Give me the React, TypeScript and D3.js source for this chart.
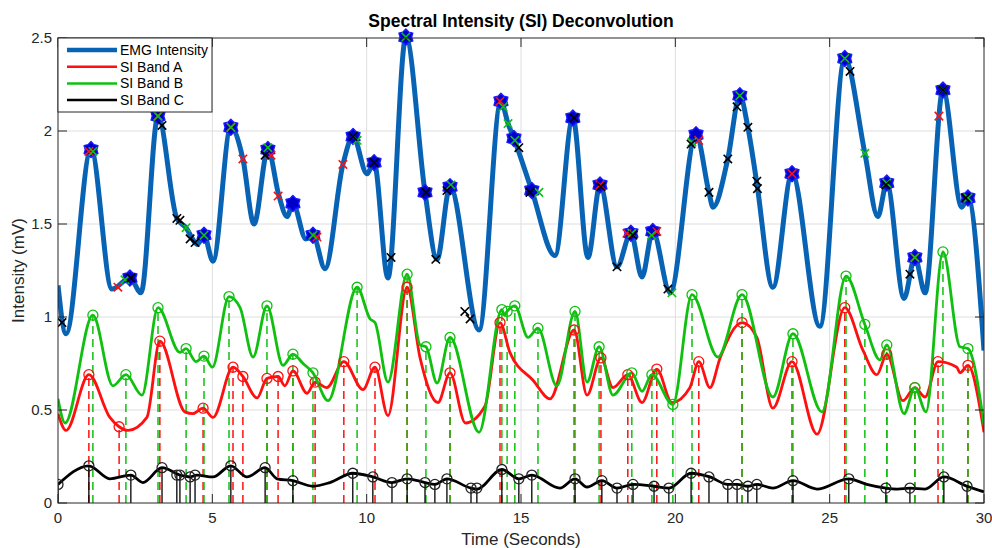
import React from "react";
import * as d3 from "d3";

type P = [number, number];

const xTicks = [0, 5, 10, 15, 20, 25, 30];
const yTicks = [0, 0.5, 1, 1.5, 2, 2.5];
const yTickLabels = ["0", "0.5", "1", "1.5", "2", "2.5"];

const emgSeries: P[] = [
  [0, 1.17], [0.26, 0.91], [1.07, 1.9], [1.75, 1.15], [2.33, 1.21], [2.69, 1.13], [3.24, 2.08],
  [3.85, 1.53], [4.15, 1.48], [4.44, 1.4], [4.52, 1.39], [4.73, 1.44], [5.02, 1.3], [5.6, 2.02],
  [5.99, 1.85], [6.35, 1.5], [6.8, 1.9], [7.16, 1.65], [7.42, 1.54], [7.61, 1.61], [8.03, 1.42],
  [8.26, 1.44], [8.65, 1.26], [9.23, 1.82], [9.56, 1.97], [10.01, 1.77], [10.24, 1.83], [10.69, 1.21],
  [11.27, 2.505], [11.89, 1.67], [12.28, 1.31], [12.7, 1.7], [13.64, 0.93], [14.35, 2.16], [14.58, 2.04],
  [14.77, 1.96], [15.35, 1.68], [16.1, 1.33], [16.68, 2.07], [17.17, 1.32], [17.56, 1.71], [18.11, 1.27],
  [18.56, 1.45], [18.92, 1.215], [19.27, 1.46], [19.83, 1.13], [20.67, 1.98], [21.09, 1.67], [21.22, 1.59],
  [21.7, 1.85], [22.09, 2.19], [22.35, 2.02], [22.64, 1.72], [23.16, 1.16], [23.78, 1.77], [24.68, 0.95],
  [25.49, 2.39], [26.14, 1.88], [26.56, 1.54], [26.85, 1.72], [27.41, 1.1], [27.76, 1.32], [28.09, 1.13],
  [28.67, 2.22], [29.28, 1.59], [29.48, 1.64], [30, 0.82],
];

const emgStars: P[] = [
  [1.07, 1.9], [2.33, 1.21], [3.24, 2.08], [4.73, 1.44], [5.6, 2.02], [6.8, 1.9], [7.61, 1.61],
  [8.26, 1.44], [9.56, 1.97], [10.24, 1.83], [11.27, 2.505], [11.89, 1.67], [12.7, 1.7], [14.35, 2.16],
  [14.77, 1.96], [15.35, 1.68], [16.68, 2.07], [17.56, 1.71], [18.56, 1.45], [19.27, 1.46], [20.67, 1.98],
  [22.09, 2.19], [23.78, 1.77], [25.49, 2.39], [26.85, 1.72], [27.76, 1.32], [28.67, 2.22], [29.48, 1.64],
];

const redX: P[] = [
  [1.0, 1.89], [1.94, 1.16], [3.24, 2.08], [5.6, 2.02], [5.99, 1.85], [6.9, 1.87], [7.13, 1.65],
  [8.39, 1.43], [9.23, 1.82], [14.32, 2.16], [17.56, 1.71], [18.43, 1.45], [19.4, 1.46], [20.76, 1.95],
  [23.78, 1.77], [27.76, 1.32], [28.54, 2.08],
];
const greenX: P[] = [
  [1.13, 1.89], [2.17, 1.2], [3.24, 2.08], [4.15, 1.48], [4.73, 1.44], [5.6, 2.02], [6.8, 1.91],
  [8.26, 1.44], [9.69, 1.95], [11.27, 2.505], [12.73, 1.71], [14.42, 2.13], [14.58, 2.04], [14.8, 1.95],
  [15.58, 1.67], [18.59, 1.45], [19.23, 1.44], [19.89, 1.13], [20.54, 1.94], [22.09, 2.19], [25.49, 2.39],
  [26.14, 1.88], [26.85, 1.72], [27.76, 1.32], [28.67, 2.22], [29.48, 1.64],
];
const blackX: P[] = [
  [0.13, 0.97], [2.36, 1.21], [3.37, 2.03], [3.85, 1.53], [3.95, 1.52], [4.28, 1.42], [4.44, 1.4],
  [6.71, 1.87], [9.56, 1.97], [10.24, 1.83], [10.79, 1.32], [11.92, 1.67], [12.24, 1.31], [12.6, 1.68],
  [13.18, 1.03], [13.35, 0.99], [14.93, 1.91], [15.29, 1.67], [16.72, 2.07], [17.59, 1.7], [18.11, 1.27],
  [18.63, 1.44], [19.76, 1.15], [20.51, 1.93], [21.09, 1.67], [21.7, 1.85], [22.0, 2.13], [22.35, 2.02],
  [22.64, 1.73], [22.66, 1.69], [25.66, 2.32], [26.82, 1.71], [27.6, 1.23], [28.67, 2.22], [29.41, 1.64],
];

const bandASeries: P[] = [
  [0, 0.48], [0.26, 0.39], [1.0, 0.69], [1.68, 0.46], [1.98, 0.41], [2.27, 0.39], [2.88, 0.46],
  [3.3, 0.87], [4.11, 0.49], [4.37, 0.48], [4.7, 0.51], [5.02, 0.46], [5.67, 0.73], [5.99, 0.68],
  [6.45, 0.565], [6.77, 0.67], [7.13, 0.68], [7.35, 0.63], [7.61, 0.71], [8.07, 0.59], [8.33, 0.65],
  [8.71, 0.62], [9.26, 0.76], [9.88, 0.61], [10.27, 0.73], [10.69, 0.47], [11.31, 1.16], [11.73, 0.78],
  [12.31, 0.54], [12.7, 0.7], [13.2, 0.43], [13.83, 0.52], [14.32, 0.97], [14.64, 0.81], [15.39, 0.66],
  [15.94, 0.56], [16.72, 0.93], [17.14, 0.58], [17.59, 0.78], [17.98, 0.62], [18.46, 0.69], [18.92, 0.54],
  [19.4, 0.72], [19.89, 0.54], [20.47, 0.62], [20.76, 0.76], [21.12, 0.62], [21.45, 0.78], [22.16, 0.97],
  [22.64, 0.89], [23.16, 0.51], [23.78, 0.76], [24.59, 0.37], [25.49, 1.05], [26.08, 0.82], [26.53, 0.69],
  [26.85, 0.8], [27.37, 0.55], [27.76, 0.62], [28.09, 0.57], [28.51, 0.76], [29.12, 0.73], [29.22, 0.7],
  [29.48, 0.74], [30, 0.38],
];
const bandAPeaks: P[] = [
  [1.0, 0.69], [1.98, 0.41], [3.3, 0.87], [4.7, 0.51], [5.67, 0.73], [5.99, 0.68], [6.77, 0.67],
  [7.13, 0.68], [7.61, 0.71], [8.33, 0.65], [9.26, 0.76], [10.27, 0.73], [11.31, 1.16], [12.7, 0.7],
  [14.32, 0.97], [16.72, 0.93], [17.59, 0.78], [18.46, 0.69], [19.4, 0.72], [20.76, 0.76], [22.16, 0.97],
  [23.78, 0.76], [25.49, 1.05], [26.85, 0.8], [27.76, 0.62], [28.51, 0.76], [29.48, 0.74],
];

const bandBSeries: P[] = [
  [0, 0.56], [0.23, 0.43], [1.13, 1.01], [1.78, 0.63], [2.2, 0.69], [2.72, 0.58], [3.24, 1.05],
  [3.95, 0.81], [4.15, 0.83], [4.47, 0.76], [4.73, 0.79], [5.0, 0.73], [5.54, 1.11], [5.9, 1.05],
  [6.32, 0.785], [6.77, 1.06], [7.29, 0.74], [7.61, 0.8], [7.94, 0.75], [8.26, 0.7], [8.75, 0.55],
  [9.69, 1.16], [10.11, 0.99], [10.27, 0.97], [10.69, 0.65], [11.31, 1.23], [11.73, 0.85], [11.92, 0.84],
  [12.28, 0.645], [12.7, 0.89], [13.64, 0.38], [14.38, 1.04], [14.46, 1.01], [14.55, 1.03], [14.8, 1.06],
  [15.23, 0.89], [15.55, 0.94], [16.16, 0.63], [16.75, 1.03], [17.14, 0.65], [17.53, 0.84], [17.98, 0.58],
  [18.59, 0.7], [18.92, 0.6], [19.24, 0.69], [19.92, 0.53], [20.54, 1.12], [21.38, 0.785], [22.16, 1.12],
  [23.16, 0.57], [23.81, 0.91], [24.75, 0.49], [25.53, 1.22], [26.14, 0.96], [26.63, 0.77], [26.85, 0.85],
  [27.41, 0.48], [27.76, 0.62], [28.12, 0.49], [28.67, 1.35], [29.22, 0.84], [29.48, 0.83], [30, 0.42],
];
const bandBPeaks: P[] = [
  [1.13, 1.01], [2.2, 0.69], [3.24, 1.05], [4.15, 0.83], [4.73, 0.79], [5.54, 1.11], [6.77, 1.06],
  [7.61, 0.8], [8.26, 0.7], [9.69, 1.16], [11.31, 1.23], [11.92, 0.84], [12.7, 0.89], [14.38, 1.04],
  [14.55, 1.03], [14.8, 1.06], [15.55, 0.94], [16.75, 1.03], [17.53, 0.84], [18.59, 0.7], [19.24, 0.69],
  [19.92, 0.53], [20.54, 1.12], [22.16, 1.12], [23.81, 0.91], [25.53, 1.22], [26.14, 0.96], [26.85, 0.85],
  [27.76, 0.62], [28.67, 1.35], [29.48, 0.83],
];

const bandCSeries: P[] = [
  [0, 0.1], [1.0, 0.2], [1.68, 0.13], [2.36, 0.15], [2.75, 0.11], [3.37, 0.19], [3.95, 0.15],
  [4.28, 0.14], [4.5, 0.15], [5.02, 0.14], [5.6, 0.2], [6.12, 0.14], [6.71, 0.19], [7.1, 0.13],
  [7.61, 0.12], [8.26, 0.09], [8.81, 0.11], [9.55, 0.16], [10.2, 0.14], [10.82, 0.11], [11.31, 0.13],
  [11.89, 0.11], [12.21, 0.1], [12.6, 0.13], [13.38, 0.08], [13.57, 0.075], [14.38, 0.18], [14.93, 0.13],
  [15.35, 0.15], [16.26, 0.08], [16.75, 0.13], [17.14, 0.086], [17.62, 0.12], [18.11, 0.08], [18.63, 0.1],
  [19.31, 0.09], [19.79, 0.08], [20.51, 0.16], [21.12, 0.14], [21.7, 0.1], [22.0, 0.1], [22.35, 0.09],
  [22.64, 0.1], [23.16, 0.08], [23.81, 0.12], [24.59, 0.075], [25.62, 0.13], [26.2, 0.1], [26.82, 0.08],
  [27.2, 0.075], [27.6, 0.08], [28.09, 0.075], [28.7, 0.14], [29.45, 0.09], [30, 0.06],
];
const bandCPeaks: P[] = [
  [0.0, 0.1], [1.0, 0.2], [2.36, 0.15], [3.37, 0.19], [3.85, 0.15], [3.95, 0.15], [4.28, 0.14],
  [4.44, 0.15], [5.6, 0.2], [6.71, 0.19], [7.61, 0.12], [9.55, 0.16], [10.2, 0.14], [10.82, 0.11],
  [11.31, 0.13], [11.89, 0.11], [12.21, 0.1], [12.6, 0.13], [13.38, 0.08], [13.57, 0.08], [14.38, 0.18],
  [14.93, 0.13], [15.35, 0.15], [16.75, 0.13], [17.62, 0.12], [18.11, 0.08], [18.63, 0.1], [19.31, 0.09],
  [19.79, 0.08], [20.51, 0.16], [21.09, 0.14], [21.7, 0.1], [22.0, 0.1], [22.35, 0.09], [22.64, 0.1],
  [23.81, 0.12], [25.62, 0.13], [26.82, 0.08], [27.6, 0.08], [28.7, 0.14], [29.45, 0.09],
];

const legendItems = [
  { label: "EMG Intensity", color: "#0863b5", width: 4.5 },
  { label: "SI Band A", color: "#ff1010", width: 2.5 },
  { label: "SI Band B", color: "#10c010", width: 2.5 },
  { label: "SI Band C", color: "#000000", width: 2.5 },
];

const W = 992;
const H = 548;
const L = 58, R = 984, T = 38, B = 503;
const FONT = "'Liberation Sans', Arial, Helvetica, sans-serif";
const AX = "#262626";

function hexagramPath(r: number): string {
  const p = d3.path();
  for (let i = 0; i < 12; i++) {
    const a = -Math.PI / 2 + (i * Math.PI) / 6;
    const rr = i % 2 === 0 ? r : r * 0.72;
    if (i === 0) p.moveTo(rr * Math.cos(a), rr * Math.sin(a));
    else p.lineTo(rr * Math.cos(a), rr * Math.sin(a));
  }
  p.closePath();
  return p.toString();
}

export default function App() {
  const x = d3.scaleLinear().domain([0, 30]).range([L, R]);
  const y = d3.scaleLinear().domain([0, 2.5]).range([B, T]);
  const line = d3
    .line<P>()
    .x((d) => x(d[0]))
    .y((d) => y(d[1]))
    .curve(d3.curveMonotoneX);

  const hex = hexagramPath(8);
  const xs = 4.2;
  const xMark = `M${-xs},${-xs}L${xs},${xs}M${-xs},${xs}L${xs},${-xs}`;

  const renderX = (pts: P[], color: string, key: string) =>
    pts.map((d, i) => (
      <path
        key={key + i}
        d={xMark}
        transform={`translate(${x(d[0])},${y(d[1])})`}
        stroke={color}
        strokeWidth={1.6}
        fill="none"
      />
    ));

  return (
    <svg
      width={W}
      height={H}
      style={{ position: "absolute", left: 0, top: 0, background: "#fff" }}
      fontFamily={FONT}
    >
      <rect x={0} y={0} width={W} height={H} fill="#fff" />
      {xTicks.slice(1, -1).map((t) => (
        <line key={"gx" + t} x1={x(t)} x2={x(t)} y1={T} y2={B} stroke="#dedede" strokeWidth={1} />
      ))}
      {yTicks.slice(1, -1).map((t) => (
        <line key={"gy" + t} x1={L} x2={R} y1={y(t)} y2={y(t)} stroke="#dedede" strokeWidth={1} />
      ))}

      <defs>
        <clipPath id="plotclip">
          <rect x={L} y={T - 10} width={R - L} height={B - T + 10} />
        </clipPath>
      </defs>

      <g clipPath="url(#plotclip)">
        {bandAPeaks.map((d, i) => (
          <line key={"ad" + i} x1={x(d[0])} x2={x(d[0])} y1={y(0)} y2={y(d[1])} stroke="#ff1010" strokeWidth={1.5} strokeDasharray="8,5" />
        ))}
        {bandBPeaks.map((d, i) => (
          <line key={"bd" + i} x1={x(d[0])} x2={x(d[0])} y1={y(0)} y2={y(d[1])} stroke="#10c010" strokeWidth={1.5} strokeDasharray="8,5" />
        ))}
        {bandCPeaks.map((d, i) => (
          <line key={"cd" + i} x1={x(d[0])} x2={x(d[0])} y1={y(0)} y2={y(d[1])} stroke="#000" strokeWidth={1.3} />
        ))}

        <path d={line(bandASeries) || ""} fill="none" stroke="#ff1010" strokeWidth={2.8} />
        <path d={line(bandBSeries) || ""} fill="none" stroke="#10c010" strokeWidth={2.8} />
        <path d={line(bandCSeries) || ""} fill="none" stroke="#000" strokeWidth={2.8} />

        {bandAPeaks.map((d, i) => (
          <circle key={"ac" + i} cx={x(d[0])} cy={y(d[1])} r={5} fill="none" stroke="#ff1010" strokeWidth={1.3} />
        ))}
        {bandBPeaks.map((d, i) => (
          <circle key={"bc" + i} cx={x(d[0])} cy={y(d[1])} r={5} fill="none" stroke="#10c010" strokeWidth={1.3} />
        ))}
        {bandCPeaks.map((d, i) => (
          <circle key={"cc" + i} cx={x(d[0])} cy={y(d[1])} r={5} fill="none" stroke="#222" strokeWidth={1.3} />
        ))}

        <path d={line(emgSeries) || ""} fill="none" stroke="#0863b5" strokeWidth={5} strokeLinejoin="round" />
        {emgStars.map((d, i) => (
          <path key={"st" + i} d={hex} transform={`translate(${x(d[0])},${y(d[1])})`} fill="#0000cc" stroke="#1a1aff" strokeWidth={1.4} strokeLinejoin="round" />
        ))}
        {renderX(redX, "#ff1010", "rx")}
        {renderX(greenX, "#10c010", "gx")}
        {renderX(blackX, "#000", "kx")}
      </g>

      <rect x={L} y={T} width={R - L} height={B - T} fill="none" stroke={AX} strokeWidth={1} />
      {xTicks.map((t) => (
        <g key={"xt" + t}>
          <line x1={x(t)} x2={x(t)} y1={B} y2={B - 9} stroke={AX} />
          <line x1={x(t)} x2={x(t)} y1={T} y2={T + 9} stroke={AX} />
          <text x={x(t)} y={B + 20} textAnchor="middle" fontSize={15} fill={AX}>
            {t}
          </text>
        </g>
      ))}
      {yTicks.map((t, i) => (
        <g key={"yt" + t}>
          <line x1={L} x2={L + 9} y1={y(t)} y2={y(t)} stroke={AX} />
          <line x1={R} x2={R - 9} y1={y(t)} y2={y(t)} stroke={AX} />
          <text x={52} y={y(t) + 5} textAnchor="end" fontSize={15} fill={AX}>
            {yTickLabels[i]}
          </text>
        </g>
      ))}

      <rect x={L} y={T} width={154} height={74} fill="#fff" stroke={AX} strokeWidth={1} />
      {legendItems.map((it, i) => (
        <g key={"lg" + i}>
          <line x1={67} x2={117} y1={50 + i * 16.7} y2={50 + i * 16.7} stroke={it.color} strokeWidth={it.width} />
          <text x={120} y={55 + i * 16.7} fontSize={14} fill="#000">
            {it.label}
          </text>
        </g>
      ))}

      <text x={(L + R) / 2} y={27} textAnchor="middle" fontSize={17.5} fontWeight="bold" fill="#000">
        Spectral Intensity (SI) Deconvolution
      </text>
      <text x={(L + R) / 2} y={545} textAnchor="middle" fontSize={17} fill={AX}>
        Time (Seconds)
      </text>
      <text transform={`translate(24,${(T + B) / 2}) rotate(-90)`} textAnchor="middle" fontSize={17} fill={AX}>
        Intensity (mV)
      </text>
    </svg>
  );
}
